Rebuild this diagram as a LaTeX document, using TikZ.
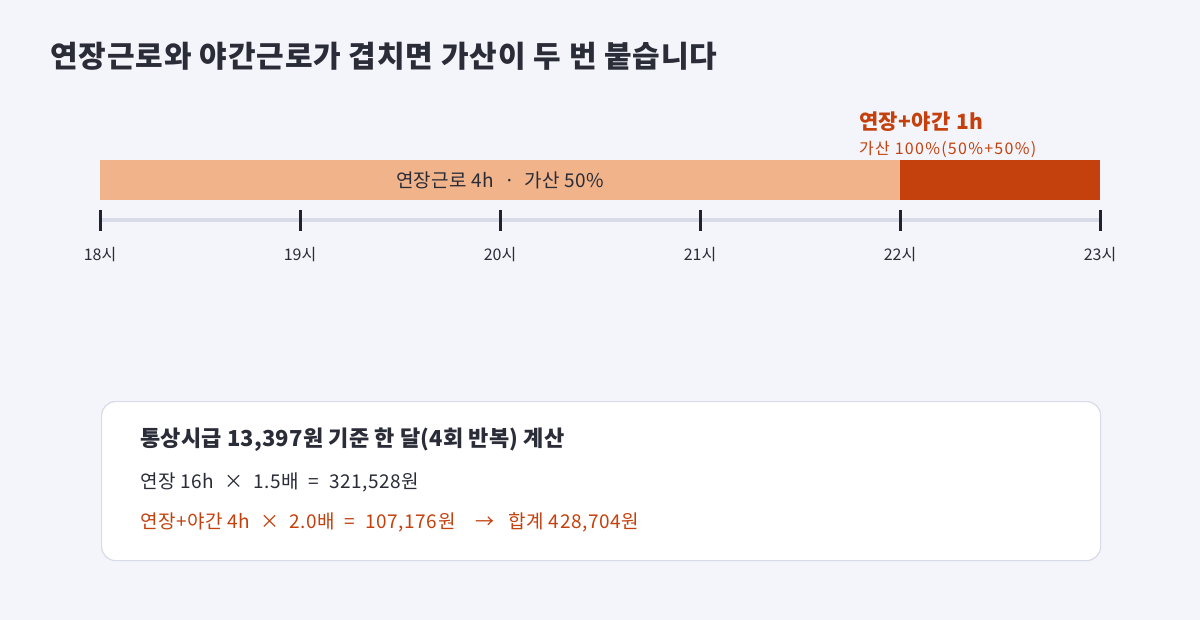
\documentclass[tikz,border=0pt]{standalone}
\usepackage{fontspec}
\setmainfont{Noto Sans CJK KR}
\usetikzlibrary{positioning}
\definecolor{bgcol}{HTML}{F4F5FA}
\definecolor{inkcol}{HTML}{2A2C38}
\definecolor{lightbar}{HTML}{F0B38A}
\definecolor{darkbar}{HTML}{C4410E}
\definecolor{axiscol}{HTML}{D8DBE8}
\definecolor{tickcol}{HTML}{1F2330}
\tikzset{
barpart/.style={draw=none, inner sep=0pt, minimum height=40pt},
ticklabel/.style={text=inkcol, font=\fontsize{16}{18}\selectfont, inner sep=0pt},
calcline/.style={anchor=west, inner sep=0pt, font=\fontsize{19}{21}\selectfont\addfontfeature{LetterSpace=3}}
}
\newcommand{\gap}{\hspace{10pt}}

\begin{document}
\begin{tikzpicture}[x=1pt, y=-1pt]
	\useasboundingbox[fill=bgcol] (0,0) rectangle (1200,620);
	\node[anchor=west, inner sep=0pt, text=inkcol, font=\fontsize{30}{33}\selectfont\bfseries\addfontfeature{LetterSpace=3}] (title) at (50,56) {연장근로와 야간근로가 겹치면 가산이 두 번 붙습니다};
	% bar
	\node[barpart, fill=lightbar, minimum width=800pt, anchor=north west] (overtime) at (100,160) {};
	\node[barpart, fill=darkbar, minimum width=200pt, anchor=north west] (overnight) at (900,160) {};
	\node[text=inkcol, font=\fontsize{19}{21}\selectfont\addfontfeature{LetterSpace=2}, inner sep=0pt] (otlabel) at (overtime.center) {연장근로 4h\gap·\gap 가산 50\%};
	\node[anchor=south west, inner sep=0pt, text=darkbar, font=\fontsize{16}{18}\selectfont\addfontfeature{LetterSpace=8}] (onrate) at (859,158) {가산 100\%(50\%+50\%)};
	\node[anchor=south west, inner sep=0pt, text=darkbar, font=\fontsize{21}{23}\selectfont\bfseries\addfontfeature{LetterSpace=2}] (ontitle) at (859,132) {연장+야간 1h};
	% axis
	\coordinate (axstart) at (100,220);
	\coordinate (axend) at (1100,220);
	\draw[axiscol, line width=4pt] (axstart) -- (axend);
	\foreach \h [count=\i from 0] in {18,...,23}{
		\draw[tickcol, line width=3pt] (100+200*\i,210) -- (100+200*\i,231);
		\node[ticklabel] (hour\h) at (100+200*\i,255) {\h 시};
	}
	% calculation box
	\node[draw=axiscol, line width=1.2pt, fill=white, rounded corners=14pt, minimum width=999pt, minimum height=159pt, anchor=north west] (calcbox) at (101,401) {};
	\node[calcline, text=inkcol, font=\fontsize{22}{24}\selectfont\bfseries\addfontfeature{LetterSpace=1}] (calchead) at (140,440) {통상시급 13,397원 기준 한 달(4회 반복) 계산};
	\node[calcline, text=inkcol] (calcot) at (140,482) {연장 16h\gap\texttimes\gap 1.5배\gap=\gap 321,528원};
	\node[calcline, text=darkbar] (calcon) at (140,522) {연장+야간 4h\gap\texttimes\gap 2.0배\gap=\gap 107,176원\gap\gap→\gap\hspace{4pt}합계 428,704원};
\end{tikzpicture}
\end{document}
